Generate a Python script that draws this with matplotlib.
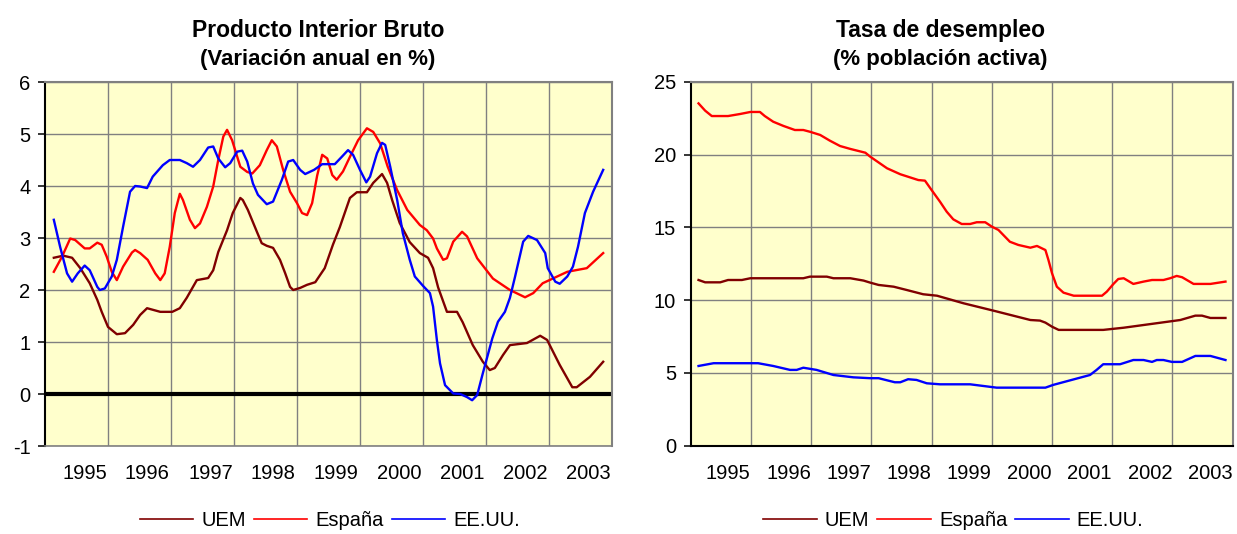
import matplotlib
matplotlib.use("Agg")
import matplotlib.pyplot as plt

plt.rcParams['font.family'] = ['Liberation Sans', 'DejaVu Sans']
plt.rcParams['axes.unicode_minus'] = False

# ---- PIB, variacion anual en % (decimal year, value) ----
uem_pib_t = [1994.64, 1994.79, 1994.93, 1995.06, 1995.21, 1995.33, 1995.40, 1995.50, 1995.64, 1995.77,
             1995.90, 1996.01, 1996.12, 1996.33, 1996.52, 1996.64, 1996.75, 1996.91, 1997.09, 1997.17,
             1997.25, 1997.39, 1997.48, 1997.60, 1997.64, 1997.72, 1997.87, 1997.94, 1998.02, 1998.12,
             1998.23, 1998.31, 1998.39, 1998.44, 1998.55, 1998.66, 1998.79, 1998.94, 1999.07, 1999.18,
             1999.34, 1999.45, 1999.61, 1999.71, 1999.85, 1999.93, 2000.01, 2000.13, 2000.29, 2000.45,
             2000.58, 2000.66, 2000.74, 2000.88, 2001.04, 2001.13, 2001.29, 2001.45, 2001.56, 2001.64,
             2001.77, 2001.88, 2002.15, 2002.36, 2002.47, 2002.67, 2002.87, 2002.94, 2003.15, 2003.36]
uem_pib = [2.62, 2.66, 2.62, 2.42, 2.13, 1.81, 1.58, 1.29, 1.15, 1.17,
           1.33, 1.52, 1.65, 1.58, 1.58, 1.65, 1.85, 2.19, 2.23, 2.38,
           2.73, 3.15, 3.48, 3.77, 3.73, 3.54, 3.10, 2.90, 2.85, 2.81,
           2.58, 2.33, 2.06, 2.00, 2.04, 2.10, 2.15, 2.42, 2.87, 3.21,
           3.77, 3.88, 3.88, 4.06, 4.23, 4.06, 3.73, 3.29, 2.92, 2.71,
           2.62, 2.42, 2.05, 1.58, 1.58, 1.38, 0.94, 0.62, 0.46, 0.50,
           0.75, 0.94, 0.98, 1.12, 1.04, 0.56, 0.13, 0.13, 0.33, 0.62]

esp_pib_t = [1994.64, 1994.77, 1994.90, 1994.98, 1995.13, 1995.21, 1995.33, 1995.40, 1995.48, 1995.56,
             1995.64, 1995.74, 1995.88, 1995.93, 1996.01, 1996.13, 1996.25, 1996.33, 1996.40, 1996.48,
             1996.56, 1996.64, 1996.69, 1996.80, 1996.88, 1996.96, 1997.07, 1997.17, 1997.25, 1997.33,
             1997.39, 1997.47, 1997.60, 1997.71, 1997.79, 1997.91, 1998.02, 1998.10, 1998.18, 1998.28,
             1998.39, 1998.50, 1998.58, 1998.66, 1998.74, 1998.82, 1998.90, 1998.98, 1999.06, 1999.13,
             1999.23, 1999.34, 1999.47, 1999.61, 1999.71, 1999.82, 1999.94, 2000.09, 2000.25, 2000.45,
             2000.56, 2000.66, 2000.72, 2000.82, 2000.88, 2000.98, 2001.12, 2001.20, 2001.36, 2001.61,
             2001.88, 2002.12, 2002.25, 2002.40, 2002.56, 2002.79, 2003.10, 2003.36]
esp_pib = [2.35, 2.64, 2.99, 2.96, 2.80, 2.80, 2.91, 2.87, 2.64, 2.35,
           2.19, 2.45, 2.72, 2.77, 2.71, 2.58, 2.32, 2.19, 2.32, 2.83,
           3.48, 3.85, 3.73, 3.35, 3.19, 3.28, 3.60, 3.99, 4.50, 4.95,
           5.08, 4.88, 4.37, 4.27, 4.24, 4.40, 4.69, 4.88, 4.76, 4.31,
           3.89, 3.67, 3.48, 3.44, 3.67, 4.20, 4.60, 4.53, 4.21, 4.12,
           4.28, 4.56, 4.88, 5.11, 5.04, 4.82, 4.37, 3.92, 3.54, 3.25,
           3.15, 2.99, 2.80, 2.58, 2.61, 2.93, 3.12, 3.03, 2.61, 2.22,
           2.00, 1.86, 1.94, 2.13, 2.22, 2.35, 2.42, 2.71]

usa_pib_t = [1994.64, 1994.74, 1994.85, 1994.93, 1995.02, 1995.13, 1995.21, 1995.33, 1995.37, 1995.45,
             1995.56, 1995.64, 1995.74, 1995.85, 1995.93, 1996.01, 1996.12, 1996.21, 1996.37, 1996.48,
             1996.64, 1996.75, 1996.85, 1996.96, 1997.09, 1997.17, 1997.25, 1997.36, 1997.44, 1997.55,
             1997.63, 1997.71, 1997.80, 1997.88, 1998.02, 1998.12, 1998.26, 1998.36, 1998.44, 1998.55,
             1998.63, 1998.77, 1998.90, 1999.10, 1999.21, 1999.31, 1999.39, 1999.50, 1999.60, 1999.66,
             1999.77, 1999.85, 1999.90, 1999.98, 2000.09, 2000.18, 2000.29, 2000.37, 2000.50, 2000.61,
             2000.66, 2000.72, 2000.77, 2000.85, 2000.98, 2001.09, 2001.20, 2001.28, 2001.36, 2001.45,
             2001.60, 2001.69, 2001.80, 2001.88, 2001.96, 2002.09, 2002.17, 2002.31, 2002.44, 2002.48,
             2002.60, 2002.67, 2002.79, 2002.88, 2002.96, 2003.07, 2003.20, 2003.36]
usa_pib = [3.35, 2.83, 2.32, 2.16, 2.32, 2.47, 2.38, 2.06, 2.00, 2.03,
           2.26, 2.58, 3.22, 3.89, 4.00, 3.99, 3.96, 4.18, 4.40, 4.50,
           4.50, 4.44, 4.37, 4.50, 4.74, 4.76, 4.53, 4.36, 4.44, 4.66,
           4.68, 4.47, 4.05, 3.83, 3.65, 3.70, 4.12, 4.47, 4.50, 4.31,
           4.23, 4.31, 4.42, 4.42, 4.56, 4.69, 4.60, 4.31, 4.07, 4.18,
           4.63, 4.83, 4.79, 4.37, 3.73, 3.09, 2.58, 2.26, 2.08, 1.94,
           1.68, 1.04, 0.59, 0.17, 0.01, 0.00, -0.06, -0.12, -0.02, 0.40,
           1.07, 1.39, 1.58, 1.85, 2.25, 2.93, 3.04, 2.96, 2.71, 2.42,
           2.16, 2.12, 2.26, 2.45, 2.83, 3.48, 3.89, 4.31]

# ---- Tasa de desempleo, % poblacion activa ----
uem_des_t = [1994.63, 1994.74, 1994.99, 1995.12, 1995.35, 1995.49, 1996.37, 1996.48, 1996.76, 1996.87,
             1997.15, 1997.37, 1997.48, 1997.62, 1997.87, 1998.09, 1998.36, 1998.59, 1999.03, 1999.53,
             2000.14, 2000.30, 2000.39, 2000.50, 2000.61, 2001.35, 2001.69, 2002.63, 2002.88, 2002.99,
             2003.13, 2003.38]
uem_des = [11.39, 11.23, 11.23, 11.39, 11.39, 11.51, 11.51, 11.62, 11.62, 11.51,
           11.51, 11.35, 11.21, 11.05, 10.93, 10.70, 10.41, 10.31, 9.79, 9.28,
           8.64, 8.60, 8.46, 8.18, 7.96, 7.96, 8.11, 8.64, 8.94, 8.94,
           8.78, 8.78]

esp_des_t = [1994.63, 1994.74, 1994.85, 1995.12, 1995.32, 1995.49, 1995.65, 1995.73, 1995.87, 1996.04,
             1996.23, 1996.37, 1996.48, 1996.65, 1996.81, 1996.98, 1997.15, 1997.40, 1997.48, 1997.76,
             1997.98, 1998.28, 1998.39, 1998.48, 1998.64, 1998.75, 1998.86, 1999.00, 1999.14, 1999.25,
             1999.39, 1999.50, 1999.61, 1999.80, 1999.94, 2000.14, 2000.25, 2000.39, 2000.44, 2000.50,
             2000.58, 2000.69, 2000.86, 2001.08, 2001.33, 2001.41, 2001.52, 2001.60, 2001.69, 2001.85,
             2002.02, 2002.16, 2002.35, 2002.46, 2002.57, 2002.66, 2002.85, 2003.13, 2003.38]
esp_des = [23.53, 23.03, 22.66, 22.66, 22.80, 22.94, 22.94, 22.66, 22.27, 21.98,
           21.70, 21.70, 21.58, 21.36, 20.97, 20.60, 20.40, 20.14, 19.87, 19.07,
           18.66, 18.26, 18.22, 17.69, 16.77, 16.09, 15.56, 15.24, 15.24, 15.36,
           15.36, 15.06, 14.83, 14.02, 13.80, 13.61, 13.73, 13.45, 12.77, 11.85,
           10.93, 10.52, 10.31, 10.31, 10.31, 10.59, 11.12, 11.46, 11.51, 11.12,
           11.28, 11.39, 11.39, 11.51, 11.67, 11.58, 11.12, 11.12, 11.28]

usa_des_t = [1994.63, 1994.88, 1995.62, 1995.87, 1996.15, 1996.26, 1996.37, 1996.59, 1996.87, 1997.20,
             1997.48, 1997.62, 1997.89, 1997.98, 1998.11, 1998.25, 1998.42, 1998.64, 1999.14, 1999.58,
             2000.39, 2000.52, 2001.13, 2001.24, 2001.35, 2001.63, 2001.85, 2002.02, 2002.16, 2002.24,
             2002.35, 2002.49, 2002.66, 2002.88, 2003.13, 2003.38]
usa_des = [5.48, 5.67, 5.67, 5.48, 5.21, 5.21, 5.36, 5.21, 4.86, 4.70,
           4.64, 4.64, 4.36, 4.36, 4.57, 4.52, 4.29, 4.22, 4.22, 3.99,
           3.99, 4.18, 4.86, 5.21, 5.60, 5.60, 5.89, 5.89, 5.76, 5.89,
           5.89, 5.76, 5.76, 6.17, 6.17, 5.89]

years = ['1995', '1996', '1997', '1998', '1999', '2000', '2001', '2002', '2003']
year_label_pos = [1995.125, 1996.125, 1997.125, 1998.125, 1999.125, 2000.125, 2001.125, 2002.125, 2003.125]
year_grid_pos = [1995.5, 1996.5, 1997.5, 1998.5, 1999.5, 2000.5, 2001.5, 2002.5]

series_names = ['UEM', 'España', 'EE.UU.']
series_colors = ['#800000', '#FF0000', '#0000FF']

BG = '#FFFFCC'
GRID = '#808080'
FS = 14.5

fig = plt.figure(figsize=(12.37, 5.34), dpi=100)
ax1 = fig.add_axes([45 / 1237, 88 / 534, 567 / 1237, 364 / 534])
ax2 = fig.add_axes([690.7 / 1237, 88.3 / 534, 542 / 1237, 363.7 / 534])


def style_axes(ax, ylo, yhi, ystep, bottom_black):
    ax.set_facecolor(BG)
    ax.set_xlim(1994.5, 2003.5)
    ax.set_ylim(ylo, yhi)
    ax.set_yticks(list(range(ylo, yhi + 1, ystep)))
    ax.set_xticks(year_grid_pos)
    ax.set_xticklabels([])
    ax.set_xticks(year_label_pos, years, minor=True)
    ax.grid(True, which='major', color=GRID, lw=1.0)
    ax.set_axisbelow(True)
    ax.tick_params(axis='x', which='both', length=0)
    ax.tick_params(axis='x', which='minor', pad=13, labelsize=FS)
    ax.tick_params(axis='y', which='major', direction='out', length=5, width=1.1,
                   labelsize=FS, pad=5.5)
    for s in ['top', 'right']:
        ax.spines[s].set_color(GRID)
        ax.spines[s].set_linewidth(1.5)
    ax.spines['left'].set_color('black')
    ax.spines['left'].set_linewidth(1.5)
    if bottom_black:
        ax.spines['bottom'].set_color('black')
        ax.spines['bottom'].set_linewidth(1.5)
    else:
        ax.spines['bottom'].set_color(GRID)
        ax.spines['bottom'].set_linewidth(1.2)


style_axes(ax1, -1, 6, 1, False)
style_axes(ax2, 0, 25, 5, True)

ax1.axhline(0, color='black', lw=3.0, zorder=2)

pib = [(uem_pib_t, uem_pib), (esp_pib_t, esp_pib), (usa_pib_t, usa_pib)]
des = [(uem_des_t, uem_des), (esp_des_t, esp_des), (usa_des_t, usa_des)]

for (t, v), name, c in zip(pib, series_names, series_colors):
    ax1.plot(t, v, color=c, lw=1.7, label=name, zorder=3, solid_joinstyle='round')
for (t, v), name, c in zip(des, series_names, series_colors):
    ax2.plot(t, v, color=c, lw=1.7, label=name, zorder=3, solid_joinstyle='round')

fig.text(318 / 1237, 1 - 36.7 / 534, 'Producto Interior Bruto', ha='center', va='baseline',
         fontsize=16.5, fontweight='bold')
fig.text(318 / 1237, 1 - 65 / 534, '(Variación anual en %)', ha='center', va='baseline',
         fontsize=16, fontweight='bold')
fig.text(940 / 1237, 1 - 36.7 / 534, 'Tasa de desempleo', ha='center', va='baseline',
         fontsize=16.5, fontweight='bold')
fig.text(940 / 1237, 1 - 65 / 534, '(% población activa)', ha='center', va='baseline',
         fontsize=16, fontweight='bold')

for ax, cx in [(ax1, 330 / 1237), (ax2, 953.5 / 1237)]:
    leg = ax.legend(loc='center', bbox_to_anchor=(cx, 13 / 534), bbox_transform=fig.transFigure,
                    ncol=3, frameon=False, fontsize=FS, handlelength=2.65,
                    handletextpad=0.4, columnspacing=0.4, borderaxespad=0, borderpad=0)
    for h in leg.get_lines():
        h.set_linewidth(1.2)

fig.savefig('out.png', dpi=100)
